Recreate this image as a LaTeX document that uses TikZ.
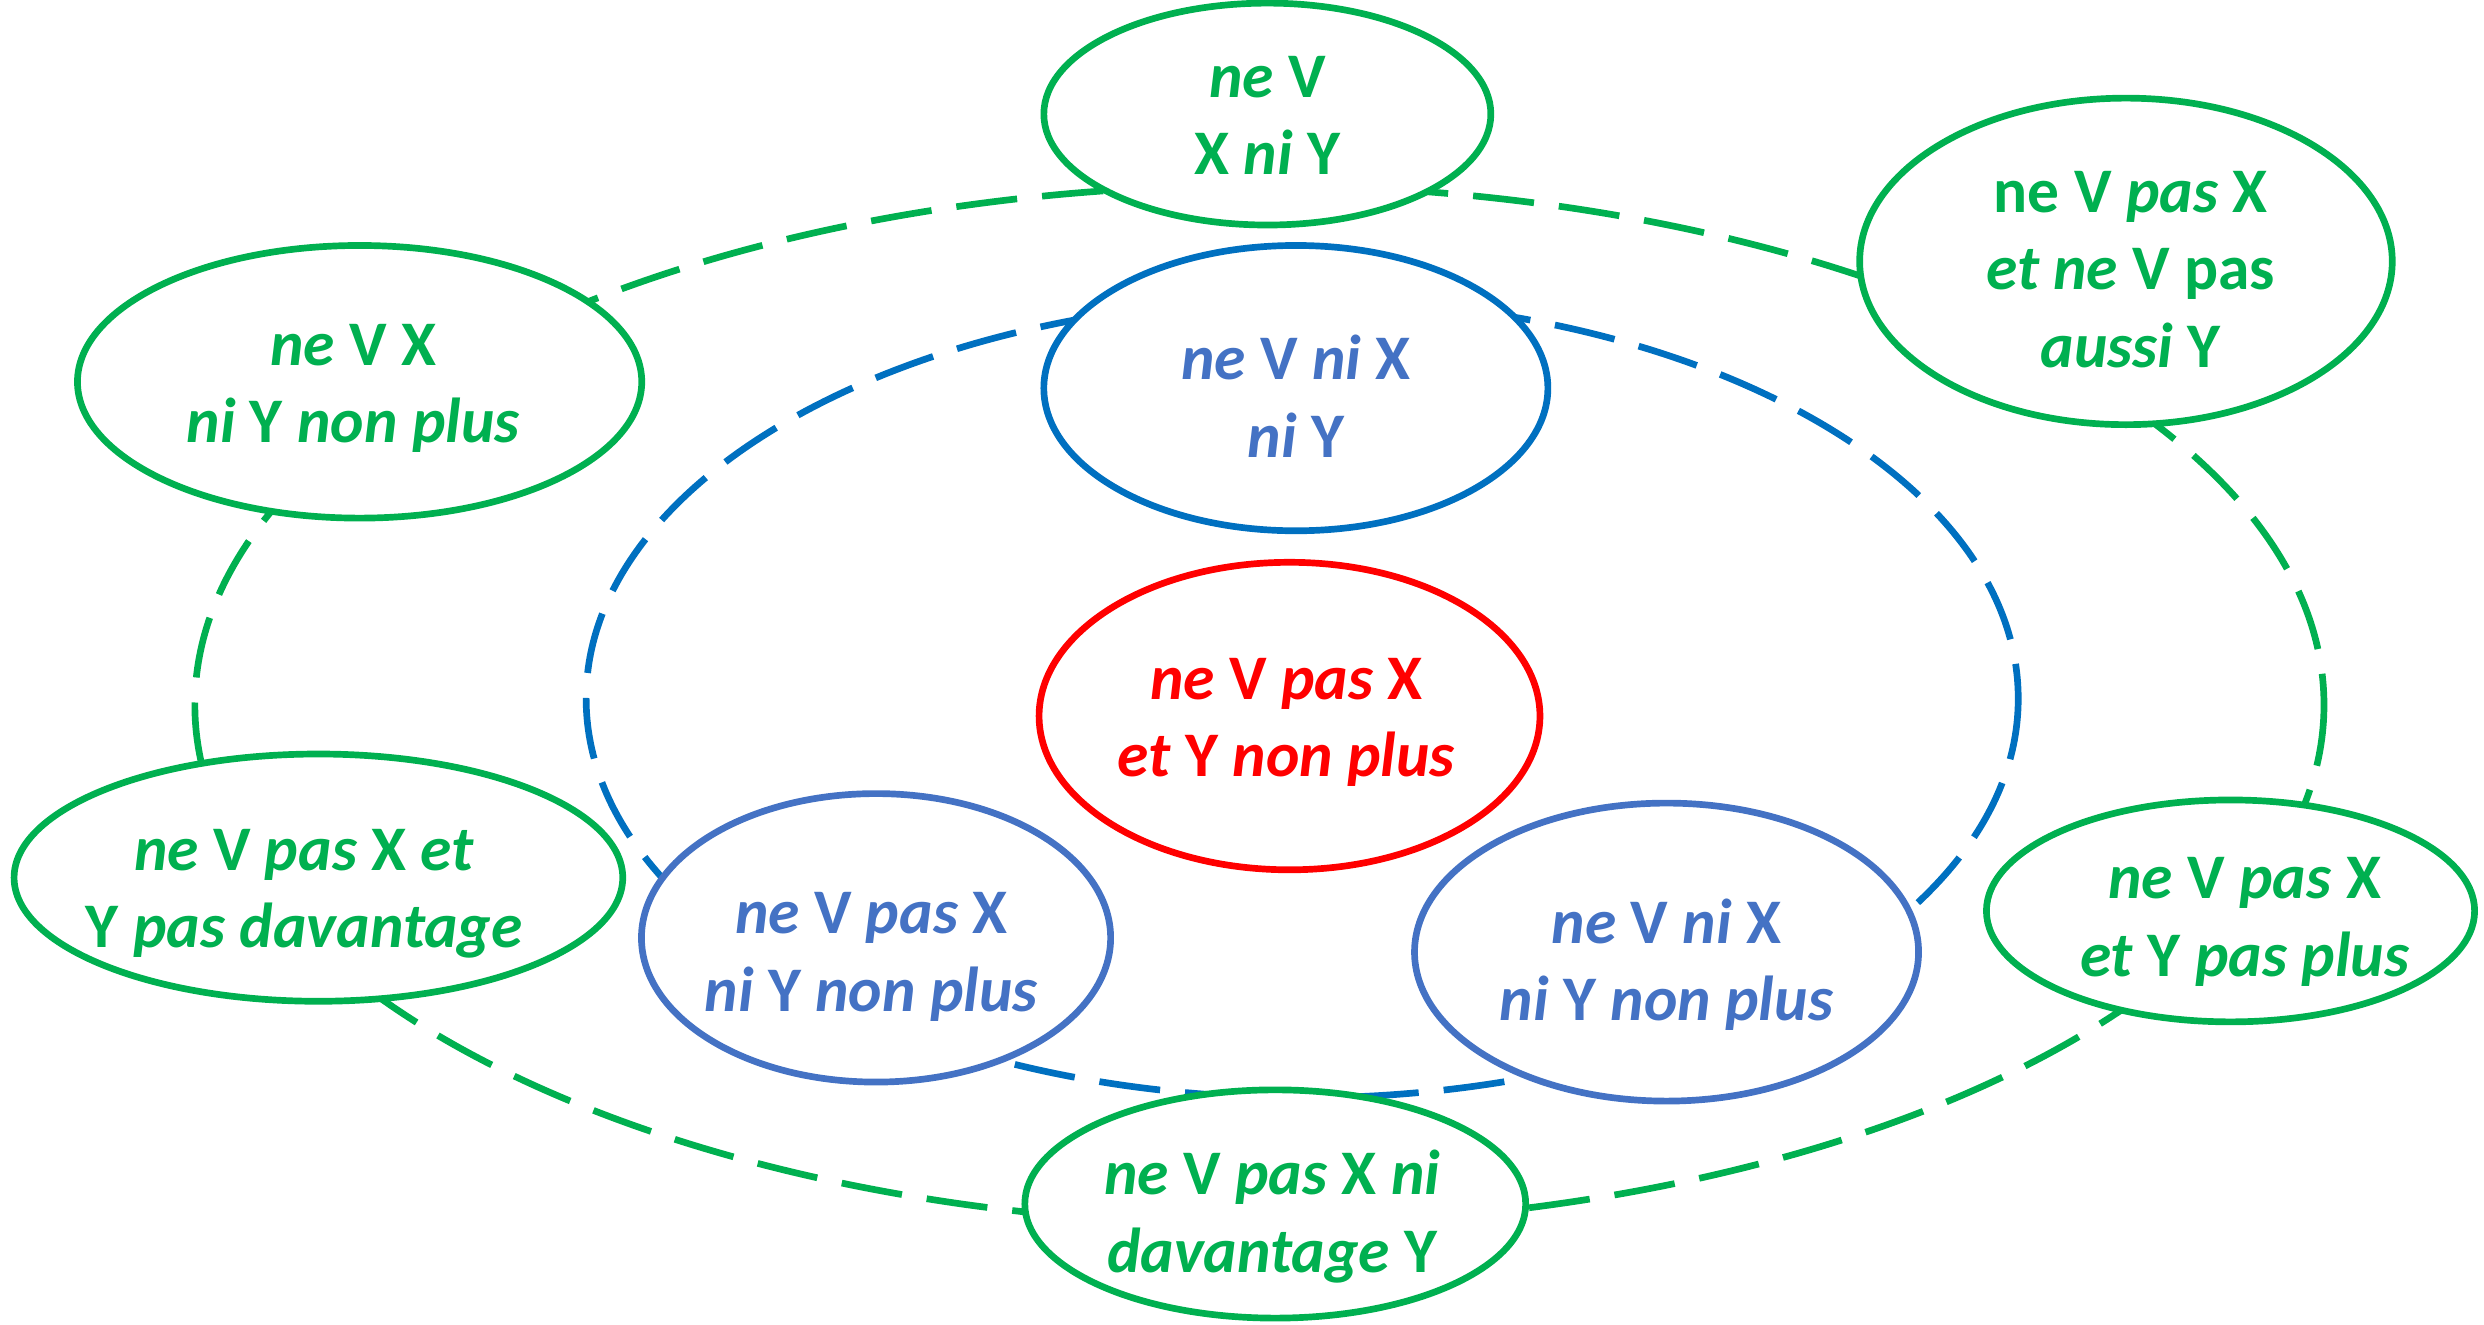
\documentclass[tikz,border=0pt]{standalone}
\usepackage{fontspec}
\setmainfont{Carlito}
\usetikzlibrary{shapes.geometric}
\definecolor{ngreen}{HTML}{00B050}
\definecolor{nblue}{HTML}{0070C0}
\definecolor{lblue}{HTML}{4472C4}
\definecolor{nred}{HTML}{FF0000}
\begin{document}
\begin{tikzpicture}[x=0.01cm,y=-0.01cm,
  ring/.style={draw=#1, line width=1.2pt, dash pattern=on 11pt off 4.5pt},
  bubble/.style={ellipse, draw=#1, fill=white, line width=1.2pt, inner sep=0pt},
  txt/.style={align=center, inner sep=0pt, text=#1, font=\fontsize{11.4}{13.9}\selectfont\bfseries},
]
\useasboundingbox (0,0) rectangle (1568,836);

% dashed rings behind the bubbles
\draw[ring=ngreen] (795,445) ellipse [x radius=672, y radius=328];
\draw[ring=nblue] (822,441) ellipse [x radius=452, y radius=252];

% outer (green) bubbles
\node[bubble=ngreen, minimum width=2.82cm, minimum height=1.40cm] (top) at (800,72) {};
\node[txt=ngreen] (toptxt) at ([shift={(0,1)}]top) {\textit{ne} V\\X \textit{ni} Y};

\node[bubble=ngreen, minimum width=3.36cm, minimum height=2.06cm] (tr) at (1342,165) {};
\node[txt=ngreen] (trtxt) at ([shift={(3,5)}]tr) {ne V \textit{pas} X\\\textit{et ne} V pas\\\textit{aussi} Y};

\node[bubble=ngreen, minimum width=3.56cm, minimum height=1.72cm] (lft) at (227,241) {};
\node[txt=ngreen] (lfttxt) at ([shift={(-4,4)}]lft) {\textit{ne} V X\\\textit{ni} Y \textit{non plus}};

\node[bubble=ngreen, minimum width=3.84cm, minimum height=1.56cm] (bl) at (201,554) {};
\node[txt=ngreen] (bltxt) at ([shift={(-9,10)}]bl) {\textit{ne} V \textit{pas} X \textit{et}\\Y \textit{pas davantage}};

\node[bubble=ngreen, minimum width=3.08cm, minimum height=1.40cm] (rgt) at (1408,575) {};
\node[txt=ngreen] (rgttxt) at ([shift={(9,7)}]rgt) {\textit{ne} V \textit{pas} X\\\textit{et} Y \textit{pas plus}};

\node[bubble=ngreen, minimum width=3.16cm, minimum height=1.44cm] (bot) at (805,760) {};
\node[txt=ngreen] (bottxt) at ([shift={(-2,8)}]bot) {\textit{ne} V \textit{pas} X \textit{ni}\\\textit{davantage} Y};

% inner (blue) bubbles
\node[bubble=nblue, minimum width=3.18cm, minimum height=1.80cm] (ctop) at (818,245) {};
\node[txt=lblue] (ctoptxt) at ([shift={(0,5)}]ctop) {\textit{ne} V \textit{ni} X\\\textit{ni} Y};

\node[bubble=lblue, minimum width=2.96cm, minimum height=1.82cm] (cbl) at (553,592) {};
\node[txt=lblue] (cbltxt) at ([shift={(-3,12)}]cbl) {\textit{ne} V \textit{pas} X\\\textit{ni} Y \textit{non plus}};

\node[bubble=lblue, minimum width=3.18cm, minimum height=1.88cm] (cbr) at (1052,601) {};
\node[txt=lblue] (cbrtxt) at ([shift={(0,8)}]cbr) {\textit{ne} V \textit{ni} X\\\textit{ni} Y \textit{non plus}};

% central (red) bubble
\node[bubble=nred, minimum width=3.16cm, minimum height=1.94cm] (mid) at (814,452) {};
\node[txt=nred] (midtxt) at ([shift={(-2,4)}]mid) {\textit{ne} V \textit{pas} X\\\textit{et} Y \textit{non plus}};
\end{tikzpicture}
\end{document}
